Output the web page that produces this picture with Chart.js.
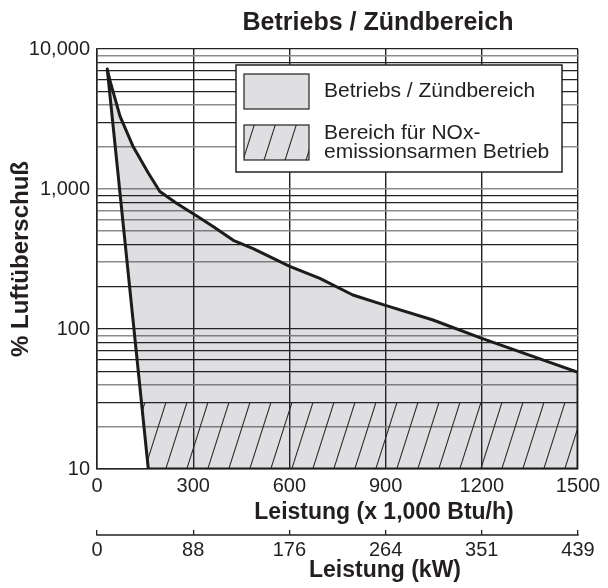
<!DOCTYPE html>
<html>
<head>
<meta charset="utf-8">
<script src="https://cdn.jsdelivr.net/npm/chart.js@4.4.1/dist/chart.umd.min.js"></script>
<style>
  html, body { margin: 0; padding: 0; background: #ffffff; }
  #c { display: block; }
</style>
</head>
<body>
<canvas id="c" width="608" height="588"></canvas>
<script>
// ---------- data ----------
const chartTitle = 'Betriebs / Zündbereich';
const xTitle = 'Leistung (x 1,000 Btu/h)';
const x2Title = 'Leistung (kW)';
const yTitle = '% Luftüberschuß';
const xTickValues = [0, 300, 600, 900, 1200, 1500];
const xTickLabels = ['0', '300', '600', '900', '1200', '1500'];
const kwTickLabels = ['0', '88', '176', '264', '351', '439'];
const yDecades = [10, 100, 1000];
const yMax = 10000;
const yTickLabels = { 10: '10', 100: '100', 1000: '1,000', 10000: '10,000' };
// Operating / ignition region outline (x: 1,000 Btu/h, y: % excess air)
const regionX = [32, 40, 72, 113, 160, 196, 248, 321, 362, 425, 487, 601, 695, 798, 897, 1048, 1198, 1500, 1500, 160, 32];
const regionY = [7200, 6000, 3300, 2000, 1300, 960, 790, 620, 540, 430, 375, 280, 230, 175, 148, 116, 86, 49, 10, 10, 7200];
// Low-NOx operating region
const lowNoxX = [139, 1500, 1500, 160, 139];
const lowNoxY = [30, 30, 10, 10, 30];
const legendLabels = [['Betriebs / Zündbereich'], ['Bereich für NOx-', 'emissionsarmen Betrieb']];

// ---------- styles ----------
const FONT = "'Liberation Sans', Arial, Helvetica, sans-serif";
const TEXT = '#231f20';
const DARK = '#222222';
const GRAY = '#8c8c8c';
const grayY = new Set([20, 40, 90, 300, 500, 600, 700, 1000, 2000, 4000, 9000]);
const regionFill = 'rgba(40,40,60,0.15)';

const canvas = document.getElementById('c');
const ctx = canvas.getContext('2d');

function makeHatch() {
  const w = 21, h = 66;
  const t = document.createElement('canvas');
  t.width = w; t.height = h;
  const g = t.getContext('2d');
  g.strokeStyle = '#2a2a2a';
  g.lineWidth = 1.1;
  g.beginPath();
  for (const dx of [-w, 0, w]) { g.moveTo(dx, h); g.lineTo(dx + w, 0); }
  g.stroke();
  return ctx.createPattern(t, 'repeat');
}
const hatch = makeHatch();

const kwMap = {}, xMap = {};
xTickValues.forEach((v, i) => { kwMap[v] = kwTickLabels[i]; xMap[v] = xTickLabels[i]; });
const xTicksBuild = s => { s.ticks = xTickValues.map(v => ({ value: v })); };

// titles, second axis line, legend box
const decorPlugin = {
  id: 'decor',
  afterDraw(chart) {
    const c = chart.ctx;
    const a = chart.chartArea;
    const x = chart.scales.x, x2 = chart.scales.x2;
    const tl = x2.options.grid.tickLength;
    c.save();
    // kW axis line (ticks point upward)
    c.strokeStyle = DARK;
    c.lineWidth = 1.5;
    c.beginPath();
    c.moveTo(x2.left - 0.75, x2.top + tl);
    c.lineTo(x2.right + 0.75, x2.top + tl);
    c.stroke();

    // titles
    c.fillStyle = TEXT;
    c.textAlign = 'center';
    c.textBaseline = 'middle';
    c.font = "bold 25px " + FONT;
    c.fillText(chartTitle, a.left + 281, a.top - 26);
    c.font = "bold 23px " + FONT;
    c.fillText(xTitle, a.left + 287, x.top + 44);
    c.fillText(x2Title, a.left + 288, x2.top + 41);

    // legend
    const bx = a.left + 139, by = a.top + 16, bw = 326, bh = 107;
    c.fillStyle = '#ffffff';
    c.fillRect(bx, by, bw, bh);
    c.strokeStyle = DARK;
    c.lineWidth = 1.5;
    c.strokeRect(bx, by, bw, bh);
    const sx = bx + 8, sw = 65, sh = 35;
    const rows = [by + 9, by + 60];
    rows.forEach((sy, i) => {
      c.fillStyle = regionFill;
      c.fillRect(sx, sy, sw, sh);
      if (i === 1) { c.fillStyle = hatch; c.fillRect(sx, sy, sw, sh); }
      c.strokeStyle = DARK; c.lineWidth = 1.2;
      c.strokeRect(sx, sy, sw, sh);
      c.fillStyle = TEXT;
      c.font = "21px " + FONT;
      c.textAlign = 'left';
      c.textBaseline = 'middle';
      const lines = legendLabels[i];
      const lh = 18.5;
      const cy = sy + sh / 2 - (lines.length - 1) * lh / 2;
      lines.forEach((t, k) => c.fillText(t, sx + sw + 15, cy + k * lh));
    });
    c.restore();
  }
};

new Chart(ctx, {
  type: 'line',
  data: {
    datasets: [
      {
        label: legendLabels[1].join(' '),
        data: lowNoxX.map((x, i) => ({ x, y: lowNoxY[i] })),
        fill: 'shape',
        backgroundColor: hatch,
        borderWidth: 0,
        pointRadius: 0
      },
      {
        label: legendLabels[0][0],
        data: regionX.map((x, i) => ({ x, y: regionY[i] })),
        fill: 'shape',
        backgroundColor: regionFill,
        borderColor: '#1c1c1c',
        borderWidth: 3,
        borderJoinStyle: 'round',
        borderCapStyle: 'round',
        pointRadius: 0
      }
    ]
  },
  options: {
    responsive: false,
    animation: false,
    events: [],
    layout: { padding: { left: 0, right: 30, top: 49, bottom: 0 } },
    plugins: {
      legend: { display: false },
      tooltip: { enabled: false },
      filler: { drawTime: 'beforeDatasetsDraw' },
      title: { display: false }
    },
    scales: {
      x: {
        type: 'linear', position: 'bottom', min: 0, max: 1500,
        afterBuildTicks: xTicksBuild,
        afterFit: s => { s.height = 61; },
        ticks: { color: TEXT, font: { family: FONT, size: 20 }, padding: 5, maxRotation: 0, autoSkip: false,
                 callback: v => xMap[v] },
        grid: { color: DARK, lineWidth: 1.4, drawTicks: false },
        border: { display: true, color: DARK, width: 1.5 },
        title: { display: false, text: xTitle }
      },
      x2: {
        type: 'linear', position: 'bottom', min: 0, max: 1500,
        afterBuildTicks: xTicksBuild,
        afterFit: s => { s.height = 58; },
        ticks: { color: TEXT, font: { family: FONT, size: 20 }, padding: 3, maxRotation: 0, autoSkip: false,
                 callback: v => kwMap[v] },
        grid: { drawOnChartArea: false, drawTicks: true, tickLength: 5, color: DARK, lineWidth: 1.3 },
        border: { display: false },
        title: { display: false, text: x2Title }
      },
      y: {
        type: 'logarithmic', position: 'left', min: 10, max: yMax,
        afterBuildTicks: s => {
          const t = [];
          yDecades.forEach(d => { for (let m = 1; m < 10; m++) t.push({ value: m * d }); });
          t.push({ value: yMax });
          s.ticks = t;
        },
        afterFit: s => { s.width = 97; },
        ticks: { color: TEXT, font: { family: FONT, size: 20 }, padding: 7, autoSkip: false,
                 callback: v => yTickLabels[v] || '' },
        grid: {
          drawTicks: false,
          color: c => (grayY.has(c.tick.value) ? GRAY : DARK),
          lineWidth: c => (grayY.has(c.tick.value) ? 1.6 : 1.2)
        },
        border: { display: true, color: DARK, width: 1.5 },
        title: { display: true, text: yTitle, color: TEXT, font: { family: FONT, size: 24, weight: 'bold' }, padding: { top: 7, bottom: 0 } }
      }
    }
  },
  plugins: [decorPlugin]
});
</script>
</body>
</html>
